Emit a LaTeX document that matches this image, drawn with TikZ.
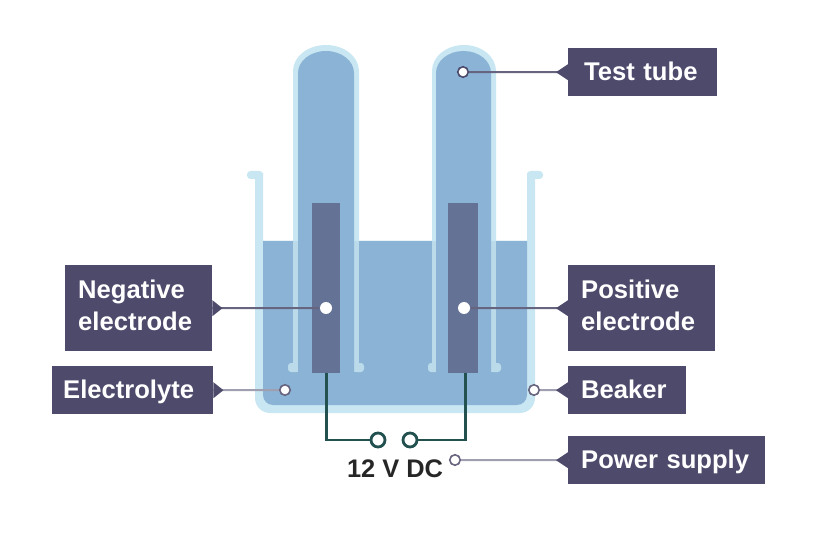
\documentclass[tikz,border=0pt]{standalone}
\usepackage{fontspec}
\setmainfont{Liberation Sans}
\definecolor{liquid}{HTML}{8AB3D5}
\definecolor{glass}{HTML}{C8E7F3}
\definecolor{wallwet}{HTML}{BBDBEB}
\definecolor{plate}{HTML}{647295}
\definecolor{labelbg}{HTML}{4D4A6C}
\definecolor{wire}{HTML}{23514F}
\definecolor{leadA}{HTML}{66647F}
\definecolor{leadB}{HTML}{A09FB2}
\tikzset{
  lblbox/.style={fill=labelbg,text=white,font=\fontsize{25.6}{31.5}\selectfont\bfseries,align=left,inner ysep=0pt,anchor=north west},
  lblone/.style={lblbox,text height=20pt,text depth=4pt,minimum height=48pt},
  lbltwo/.style={lblbox,minimum height=86pt},
  plate node/.style={fill=plate,inner sep=0pt,anchor=north west},
  dotnode/.style={circle,fill=white,draw=labelbg,line width=1.6pt,inner sep=0pt,minimum size=10.5pt},
  dotlight/.style={dotnode,draw=leadA},
  dotclear/.style={dotnode,draw=none,minimum size=12pt},
  leaderA/.style={draw=leadA,line width=2pt},
  leaderB/.style={draw=leadB,line width=2pt},
  termnode/.style={circle,fill=white,draw=wire,line width=2.8pt,inner sep=0pt,minimum size=14pt},
  wireline/.style={draw=wire,line width=2.6pt,line join=miter},
}
\begin{document}
\begin{tikzpicture}[x=1pt,y=-1pt]
\useasboundingbox (0,0) rectangle (828,540);
% beaker glass
\fill[glass] (255,173) -- (263,173) -- (263,241) -- (527,241) -- (527,173) -- (535,173) -- (535,398)
  arc[start angle=0,end angle=90,x radius=15pt,y radius=-15pt] -- (270,413)
  arc[start angle=90,end angle=180,x radius=15pt,y radius=-15pt] -- cycle;
\fill[glass,rounded corners=3.5pt] (247,171) rectangle (263,179);
\fill[glass,rounded corners=3.5pt] (527,171) rectangle (543,179);
% electrolyte
\fill[liquid] (263,241) -- (527,241) -- (527,395)
  arc[start angle=0,end angle=90,x radius=10pt,y radius=-10pt] -- (273,405)
  arc[start angle=90,end angle=180,x radius=10pt,y radius=-10pt] -- cycle;
% tubes: dry glass above the liquid
\foreach \xa/\xb in {293/359,432/496}{
  \fill[glass] (\xa,241) -- (\xa,71) arc[start angle=180,end angle=0,x radius={(\xb-\xa)/2*1pt},y radius=26pt] -- (\xb,241) -- cycle;
  \fill[wallwet] (\xa,241) rectangle (\xb,372);
}
% feet
\fill[wallwet,rounded corners=3pt] (288,363) rectangle (299,372);
\fill[wallwet,rounded corners=3pt] (353,363) rectangle (364,372);
\fill[wallwet,rounded corners=3pt] (428,363) rectangle (438,372);
\fill[wallwet,rounded corners=3pt] (490,363) rectangle (501,372);
% tube interiors
\fill[liquid] (298,380) -- (298,73) arc[start angle=180,end angle=0,x radius=28pt,y radius=22pt] -- (354,380) -- cycle;
\fill[liquid] (436,380) -- (436,73) arc[start angle=180,end angle=0,x radius=27.5pt,y radius=22pt] -- (491,380) -- cycle;
% electrodes
\node[plate node,minimum width=28pt,minimum height=170pt] (elL) at (312,203) {};
\node[plate node,minimum width=30pt,minimum height=170pt] (elR) at (448,203) {};
% terminals and wires
\node[termnode] (termL) at (378,440) {};
\node[termnode] (termR) at (410,440) {};
\draw[wireline] (elL.south) |- (termL.west);
\draw[wireline] ([xshift=2pt]elR.south) |- (termR.east);
\node[font=\fontsize{25.4}{28}\selectfont\bfseries,text=black!85,inner sep=0pt] (volts) at (395,468.5) {12 V DC};
% dots
\node[dotnode] (dTube) at (463,72) {};
\node[dotclear] (dNeg) at (326,308) {};
\node[dotclear] (dPos) at (464,308) {};
\node[dotlight] (dElec) at (285,390) {};
\node[dotlight] (dBeak) at (534,390) {};
\node[dotlight] (dPow) at (455,460) {};
% label boxes
\node[lblone,inner xsep=16pt,text width=117pt] (bTube) at (568,48) {Test tube};
\node[lbltwo,inner xsep=13pt,text width=121pt] (bNeg) at (65,265) {Negative\\electrode\rule[-6pt]{0pt}{0pt}};
\node[lblone,inner xsep=11pt,text width=139pt] (bElec) at (52,366) {Electrolyte};
\node[lbltwo,inner xsep=13pt,text width=121pt] (bPos) at (568,265) {Positive\\electrode\rule[-6pt]{0pt}{0pt}};
\node[lblone,inner xsep=13pt,text width=92pt] (bBeak) at (568,366) {Beaker};
\node[lblone,inner xsep=13pt,text width=171pt] (bPow) at (568,436) {Power supply};
% leaders
\draw[leaderA] (dTube) -- (bTube);
\draw[leaderA] (dNeg) -- (bNeg);
\draw[leaderA] (dPos) -- (bPos);
\draw[leaderB] (dElec) -- (bElec);
\draw[leaderB] (dBeak) -- (bBeak);
\draw[leaderB] (dPow) -- (bPow);
% pointers
\foreach \b in {bTube,bPos,bBeak,bPow}{
  \fill[labelbg] ([yshift=-8pt]\b.west) -- ([xshift=-12pt]\b.west) -- ([yshift=8pt]\b.west) -- cycle;
}
\foreach \b in {bNeg,bElec}{
  \fill[labelbg] ([yshift=-8pt]\b.east) -- ([xshift=10pt]\b.east) -- ([yshift=8pt]\b.east) -- cycle;
}
\end{tikzpicture}
\end{document}
